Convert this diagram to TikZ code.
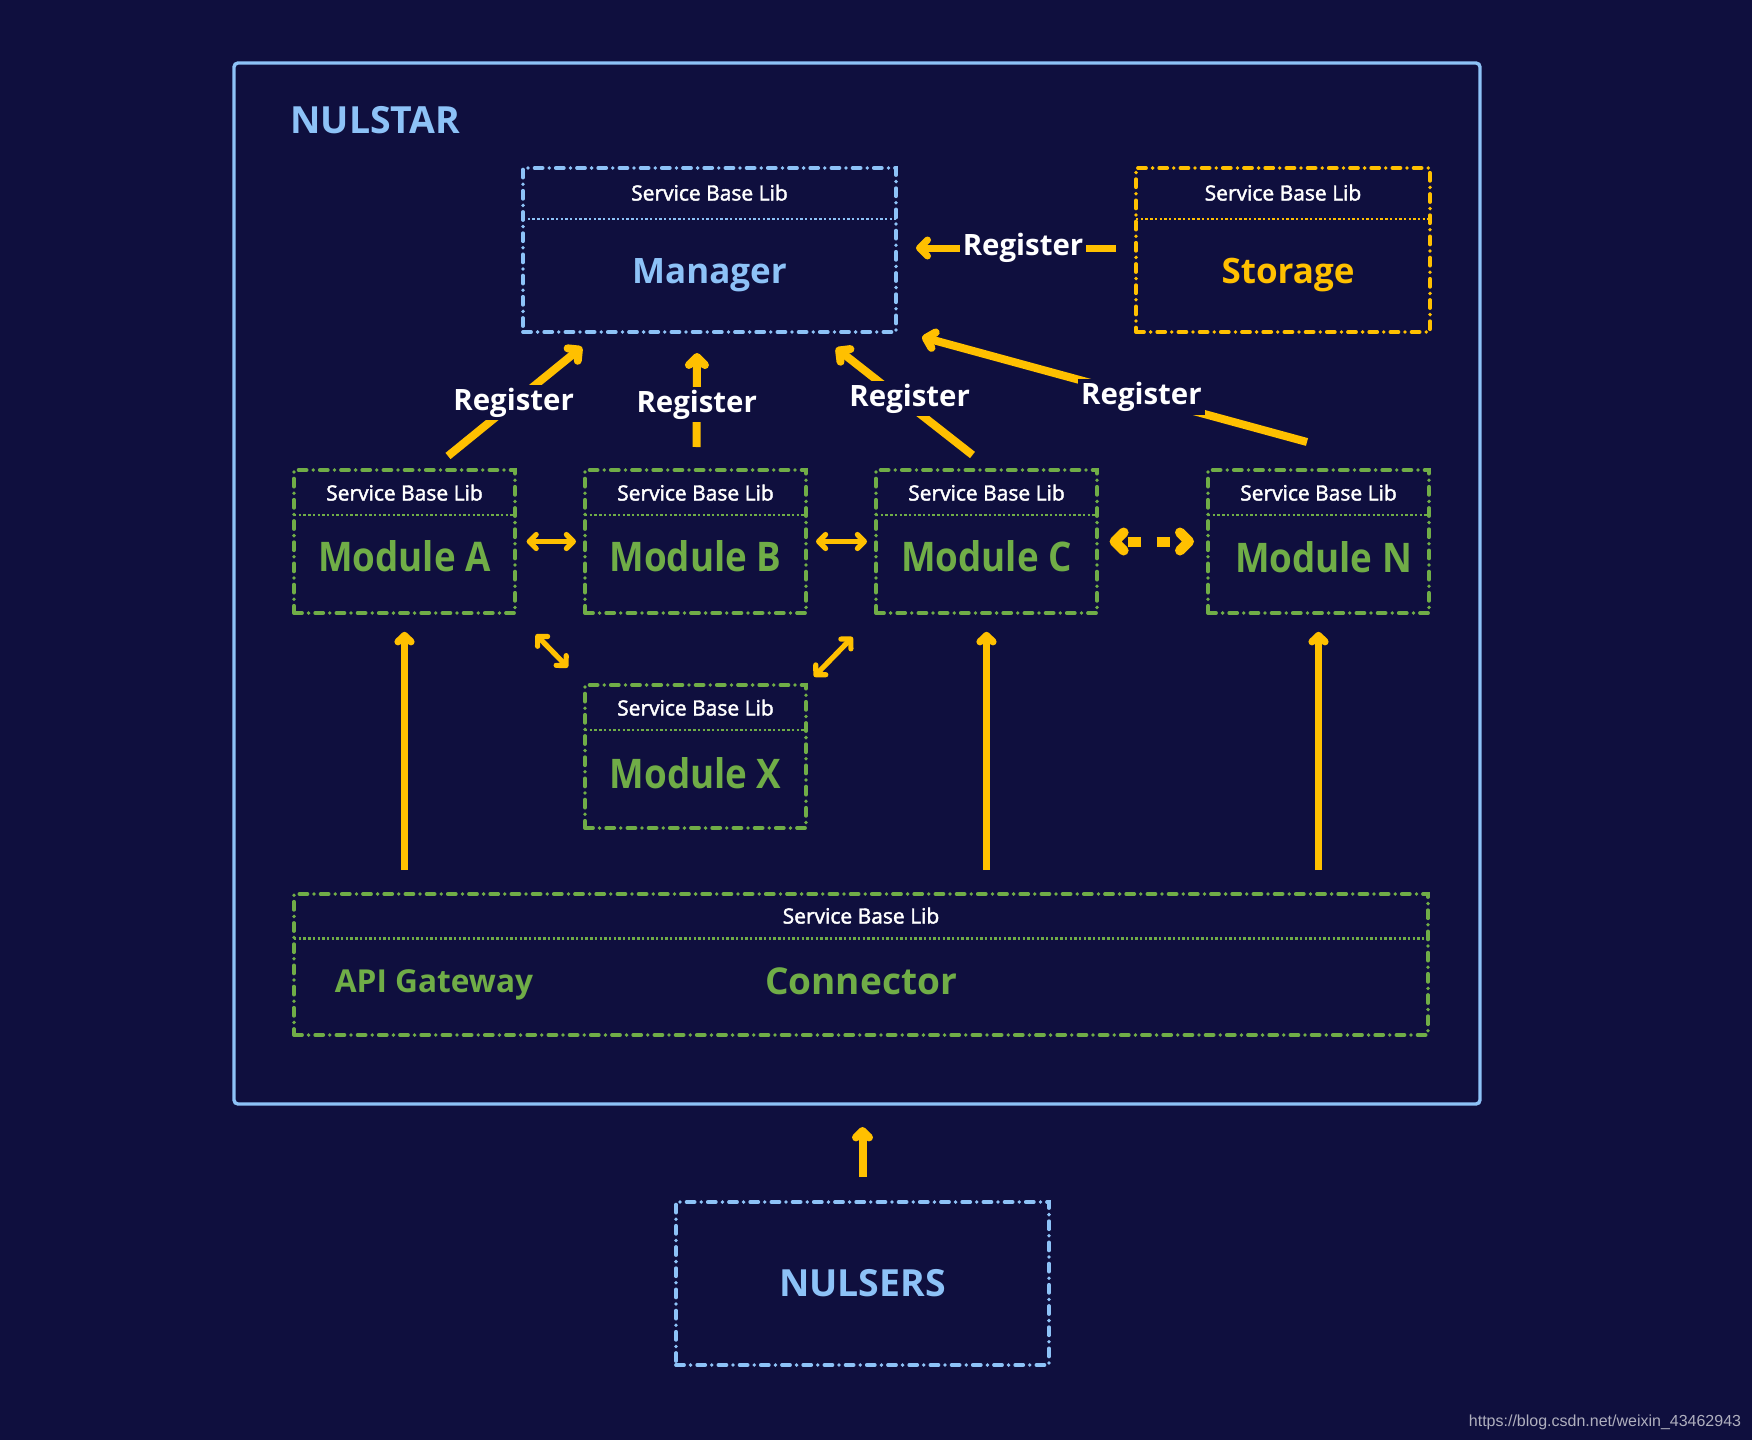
\documentclass[tikz,border=0pt]{standalone}
\usepackage{fontspec}
\setmainfont{Open Sans}
\newfontfamily\libfont{Open Sans}[FakeBold=2]
\newfontfamily\namefont{Open Sans}[FakeStretch=0.9]
\newfontfamily\urlfont{Liberation Sans}
\usetikzlibrary{arrows.meta, positioning}

\definecolor{navybg}{RGB}{15,15,62}
\definecolor{skyline}{RGB}{141,194,247}
\definecolor{ambercol}{RGB}{255,192,0}
\definecolor{leafgreen}{RGB}{112,173,71}
\definecolor{urlgray}{RGB}{175,175,190}

\tikzset{
    starframe/.style={rectangle, draw=skyline, line width=1.7pt, rounded corners=2pt, inner sep=0pt, outer sep=0pt},
    svcbox/.style={rectangle, draw=#1, line width=1.9pt, line cap=round, dash pattern=on 4pt off 3.3pt on 0pt off 3.3pt, inner sep=0pt, outer sep=0pt},
    divline/.style={draw=#1, line width=1.2pt, dash pattern=on 1.2pt off 1.15pt},
    libtext/.style={font=\libfont\fontsize{10.5}{12}\selectfont, text=white, inner sep=0pt, text height=7.5pt, text depth=0pt},
    nametext/.style={font=\bfseries\fontsize{17.5}{20}\selectfont, text=#1, inner sep=0pt, text height=12.5pt, text depth=0pt},
    modtext/.style={font=\namefont\bfseries\fontsize{20.4}{24}\selectfont, text=leafgreen, inner sep=0pt, text height=14.6pt, text depth=0pt},
    gwtext/.style={font=\bfseries\fontsize{#1}{22}\selectfont, text=leafgreen, inner sep=0pt, text height=0.714*#1 pt, text depth=0pt},
    titletext/.style={font=\bfseries\fontsize{18.7}{22}\selectfont, text=skyline, inner sep=0pt, text height=13.4pt, text depth=0pt},
    urltext/.style={font=\urlfont\fontsize{8}{10}\selectfont, text=urlgray, inner sep=0pt, text height=5.8pt, text depth=0pt},
    regarrow/.style={draw=ambercol, line width=4pt, -{Straight Barb[length=4pt, width=8pt, round]}},
    reglabel/.style={fill=navybg, text=white, font=\bfseries\fontsize{14.7}{17}\selectfont, inner sep=1.5pt},
    twoarrow/.style={draw=ambercol, line width=2.6pt, {Straight Barb[length=3.5pt, width=7pt, round]}-{Straight Barb[length=3.5pt, width=7pt, round]}},
    dasharrow/.style={draw=ambercol, line width=5pt, dash pattern=on 6.5pt off 8pt, dash phase=10.5pt, {Straight Barb[length=4.5pt, width=9pt, round]}-{Straight Barb[length=4.5pt, width=9pt, round]}},
    feedarrow/.style={draw=ambercol, line width=3.6pt, -{Straight Barb[length=3.2pt, width=6.5pt, round]}}
}

\begin{document}
\begin{tikzpicture}[x=0.5pt, y=-0.5pt]

\fill[navybg] (0,0) rectangle (1752,1440);
\useasboundingbox (0,0) rectangle (1752,1440);

% outer frame
\node[starframe, minimum width=623pt, minimum height=520.5pt] (nulstar) at (857,583.5) {};
\node[titletext, anchor=west] (nulstar-title) at ([shift={(56,57)}]nulstar.north west) {NULSTAR};

% manager and storage
\node[svcbox=skyline, minimum width=186.5pt, minimum height=82pt] (mgr) at (709.5,250) {};
\node[svcbox=ambercol, minimum width=147pt, minimum height=82pt, right=120pt of mgr] (sto) {};
\draw[divline=skyline] ([yshift=-25.5pt]mgr.north west) -- ([yshift=-25.5pt]mgr.north east);
\draw[divline=ambercol] ([yshift=-25.5pt]sto.north west) -- ([yshift=-25.5pt]sto.north east);
\node[libtext] (mgr-lib) at ([yshift=-12.5pt]mgr.north) {Service Base Lib};
\node[libtext] (sto-lib) at ([yshift=-12.5pt]sto.north) {Service Base Lib};
\node[nametext=skyline] (mgr-name) at ([yshift=-10.4pt]mgr.center) {Manager};
\node[nametext=ambercol] (sto-name) at ([shift={(5,21)}]sto.center) {Storage};

% modules
\node[svcbox=leafgreen, minimum width=110.5pt, minimum height=71.5pt] (ma) at (404.5,541.5) {};
\node[svcbox=leafgreen, minimum width=110.5pt, minimum height=71.5pt, right=35pt of ma] (mb) {};
\node[svcbox=leafgreen, minimum width=110.5pt, minimum height=71.5pt, right=35pt of mb] (mc) {};
\node[svcbox=leafgreen, minimum width=110.5pt, minimum height=71.5pt, right=55.5pt of mc] (mn) {};
\node[svcbox=leafgreen, minimum width=110.5pt, minimum height=71.5pt, below=36pt of mb] (mx) {};

\draw[divline=leafgreen] ([yshift=-22.5pt]ma.north west) -- ([yshift=-22.5pt]ma.north east);
\draw[divline=leafgreen] ([yshift=-22.5pt]mb.north west) -- ([yshift=-22.5pt]mb.north east);
\draw[divline=leafgreen] ([yshift=-22.5pt]mc.north west) -- ([yshift=-22.5pt]mc.north east);
\draw[divline=leafgreen] ([yshift=-22.5pt]mn.north west) -- ([yshift=-22.5pt]mn.north east);
\draw[divline=leafgreen] ([yshift=-22.5pt]mx.north west) -- ([yshift=-22.5pt]mx.north east);

\node[libtext] (ma-lib) at ([yshift=-11.5pt]ma.north) {Service Base Lib};
\node[libtext] (mb-lib) at ([yshift=-11.5pt]mb.north) {Service Base Lib};
\node[libtext] (mc-lib) at ([yshift=-11.5pt]mc.north) {Service Base Lib};
\node[libtext] (mn-lib) at ([yshift=-11.5pt]mn.north) {Service Base Lib};
\node[libtext] (mx-lib) at ([yshift=-11.5pt]mx.north) {Service Base Lib};

\node[modtext] (ma-name) at ([yshift=-7.8pt]ma.center) {Module A};
\node[modtext] (mb-name) at ([yshift=-7.8pt]mb.center) {Module B};
\node[modtext] (mc-name) at ([yshift=-7.8pt]mc.center) {Module C};
\node[modtext] (mn-name) at ([shift={(5,16)}]mn.center) {Module N};
\node[modtext] (mx-name) at ([yshift=-8.5pt]mx.center) {Module X};

% gateway and connector
\node[svcbox=leafgreen, minimum width=567pt, minimum height=70.5pt] (gw) at (861,964.5) {};
\draw[divline=leafgreen] ([yshift=-22.25pt]gw.north west) -- ([yshift=-22.25pt]gw.north east);
\node[libtext] (gw-lib) at ([yshift=-11pt]gw.north) {Service Base Lib};
\node[gwtext=15.8, anchor=west] (gw-api) at ([shift={(40.5,17)}]gw.west) {API Gateway};
\node[gwtext=18.5] (gw-conn) at ([yshift=-8.5pt]gw.center) {Connector};

% nulsers
\node[svcbox=skyline, minimum width=186.5pt, minimum height=81.5pt] (nul) at (862.5,1283.5) {};
\node[titletext] (nul-name) at (nul.center) {NULSERS};

% register arrows
\draw[regarrow] ([shift={(43.5,-14)}]ma.north) -- node[reglabel, pos=0.49] {Register} ([shift={(59,15)}]mgr.south west);
\draw[regarrow] ([shift={(1,-23)}]mb.north) -- node[reglabel, pos=0.45] {Register} ([shift={(-12.5,21)}]mgr.south);
\draw[regarrow] ([shift={(-14,-15)}]mc.north) -- node[reglabel, pos=0.46, yshift=3.5pt] {Register} ([shift={(-60,16)}]mgr.south east);
\draw[regarrow] ([shift={(-11.5,-28)}]mn.north) -- node[reglabel, pos=0.43] {Register} ([shift={(26,5)}]mgr.south east);
\draw[regarrow, line width=3.5pt] ([shift={(-20,-2)}]sto.west) -- node[reglabel, pos=0.465] {Register} ([shift={(20,-2)}]mgr.east);

% module links
\draw[twoarrow, shorten <=5.8pt, shorten >=4.5pt] (ma.east) -- (mb.west);
\draw[twoarrow, shorten <=5pt, shorten >=4.5pt] (mb.east) -- (mc.west);
\draw[dasharrow, shorten <=6.3pt, shorten >=7pt] (mc.east) -- (mn.west);
\draw[twoarrow, shorten <=15pt, shorten >=12.3pt] (ma.south east) -- (mx.north west);
\draw[twoarrow, shorten <=16.8pt, shorten >=5.8pt] (mc.south west) -- (mx.north east);

% gateway feeds
\draw[feedarrow, shorten <=12pt, shorten >=9.4pt] (ma |- gw.north) -- (ma.south);
\draw[feedarrow, shorten <=12pt, shorten >=9.4pt] (mc |- gw.north) -- (mc.south);
\draw[feedarrow, shorten <=12pt, shorten >=9.4pt] (mn |- gw.north) -- (mn.south);
\draw[feedarrow, line width=4pt, shorten <=12.6pt, shorten >=11.5pt] (nul.north) -- (nul.north |- nulstar.south);

\node[urltext, anchor=east] (url) at (1741.5,1421) {https://blog.csdn.net/weixin\_43462943};

\end{tikzpicture}
\end{document}
